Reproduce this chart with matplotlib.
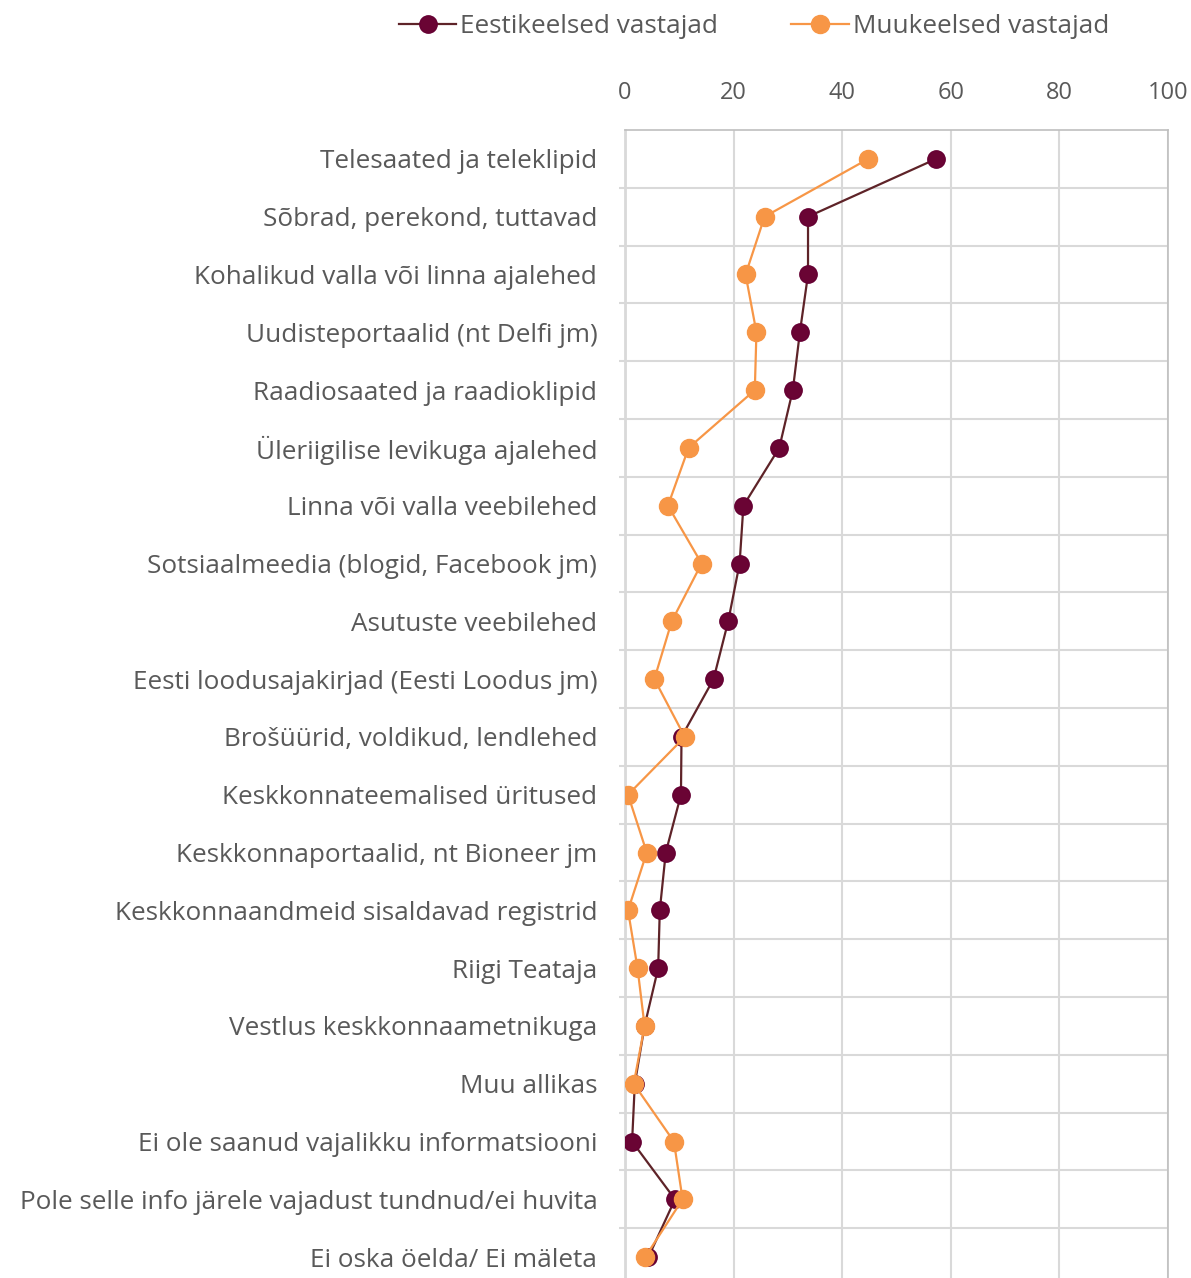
"""
Infoallikad keskkonnateemadel: eesti- ja muukeelsed vastajad (%).
"""

import numpy as np
import matplotlib.pyplot as plt

kategooriad = [
    "Telesaated ja teleklipid",
    "Sõbrad, perekond, tuttavad",
    "Kohalikud valla või linna ajalehed",
    "Uudisteportaalid (nt Delfi jm)",
    "Raadiosaated ja raadioklipid",
    "Üleriigilise levikuga ajalehed",
    "Linna või valla veebilehed",
    "Sotsiaalmeedia (blogid, Facebook jm)",
    "Asutuste veebilehed",
    "Eesti loodusajakirjad (Eesti Loodus jm)",
    "Brošüürid, voldikud, lendlehed",
    "Keskkonnateemalised üritused",
    "Keskkonnaportaalid, nt Bioneer jm",
    "Keskkonnaandmeid sisaldavad registrid",
    "Riigi Teataja",
    "Vestlus keskkonnaametnikuga",
    "Muu allikas",
    "Ei ole saanud vajalikku informatsiooni",
    "Pole selle info järele vajadust tundnud/ei huvita",
    "Ei oska öelda/ Ei mäleta",
]

eestikeelsed = [57.3, 33.7, 33.7, 32.2, 30.9, 28.4, 21.8, 21.1, 19.0, 16.3,
                10.4, 10.3, 7.5, 6.4, 6.1, 3.6, 1.8, 1.3, 9.2, 4.3]
muukeelsed = [44.8, 25.7, 22.2, 24.2, 23.9, 11.7, 7.9, 14.1, 8.6, 5.4,
              11.0, 0.55, 4.0, 0.55, 2.3, 3.6, 1.6, 9.0, 10.6, 3.7]

x_ticks = [0, 20, 40, 60, 80, 100]

plt.rcParams["font.family"] = ["Open Sans", "DejaVu Sans"]

fig = plt.figure(figsize=(11.91, 12.78), dpi=100)
ax = fig.add_axes([0.5248, -0.0063, 0.4559, 0.9046])

y = np.arange(len(kategooriad))

ax.plot(eestikeelsed, y, color="#5E2328", linewidth=1.6, marker="o",
        markersize=12.5, markerfacecolor="#6A0434", markeredgecolor="#660033",
        label="Eestikeelsed vastajad", zorder=3)
ax.plot(muukeelsed, y, color="#F79646", linewidth=1.6, marker="o",
        markersize=13, markerfacecolor="#F79646", markeredgecolor="#F79646",
        label="Muukeelsed vastajad", zorder=4)

ax.set_xlim(0, 100)
ax.set_ylim(len(kategooriad) - 0.5, -0.5)

ax.set_xticks(x_ticks)
ax.set_xticklabels([str(t) for t in x_ticks])
ax.xaxis.tick_top()
ax.tick_params(axis="x", length=0, pad=18, labelsize=17, labelcolor="#595959")

ax.set_yticks(y)
ax.set_yticklabels(kategooriad)
ax.tick_params(axis="y", which="major", length=0, pad=20, labelsize=18.8,
               labelcolor="#595959")
ax.set_yticks(y[:-1] + 0.5, minor=True)
ax.tick_params(axis="y", which="minor", length=4, color="#D9D9D9", width=1.5)

ax.grid(axis="x", color="#D9D9D9", linewidth=1.5, zorder=0)
ax.grid(axis="y", which="minor", color="#D9D9D9", linewidth=1.5, zorder=0)
ax.set_axisbelow(True)

for side in ["top", "right"]:
    ax.spines[side].set_color("#BFBFBF")
    ax.spines[side].set_linewidth(1.2)
ax.spines["left"].set_color("#D9D9D9")
ax.spines["left"].set_linewidth(2)
ax.spines["bottom"].set_visible(False)

fig.legend(loc="center", bbox_to_anchor=(0.633, 0.979), ncol=2, frameon=False,
           fontsize=18.8, labelcolor="#595959", columnspacing=2.8,
           handlelength=2.2, handletextpad=0.15)

fig.savefig("out.png", dpi=100)
